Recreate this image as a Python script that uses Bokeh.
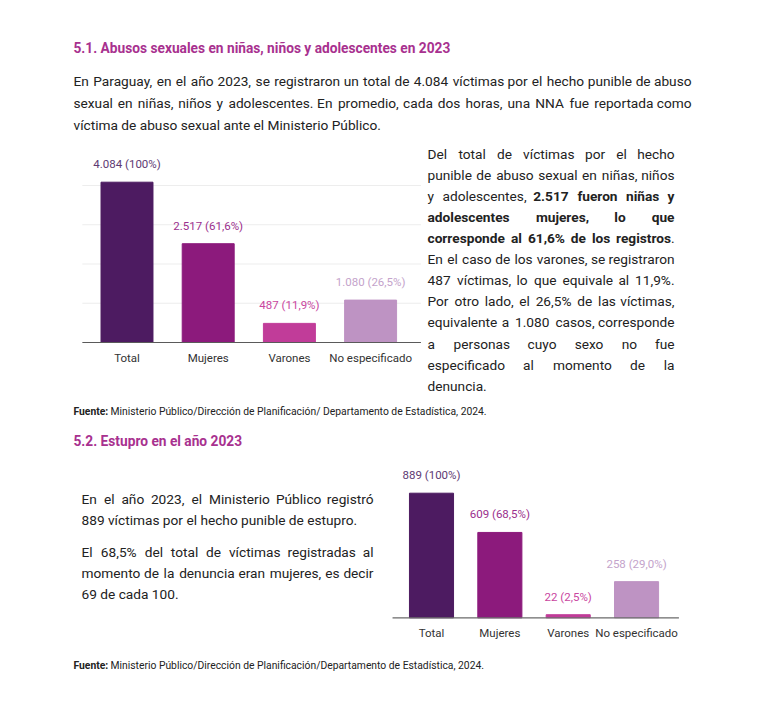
from bokeh.plotting import figure
from bokeh.models import Range1d, ColumnDataSource
from bokeh.core.properties import value
from bokeh.embed import file_html
from bokeh.resources import INLINE

# ---------------- data ----------------
categories = ["Total", "Mujeres", "Varones", "No especificado"]
abuso_values = [4084, 2517, 487, 1080]
abuso_labels = ["4.084 (100%)", "2.517 (61,6%)", "487 (11,9%)", "1.080 (26,5%)"]
abuso_grid = [1000, 2000, 3000, 4000]
estupro_values = [889, 609, 22, 258]
estupro_labels = ["889 (100%)", "609 (68,5%)", "22 (2,5%)", "258 (29,0%)"]

bar_colors = ["#4d1b61", "#8c1a7c", "#c13c99", "#be93c3"]
label_colors = ["#5e3a73", "#9b2f8d", "#c9469f", "#c4a3cb"]

title_1 = "5.1. Abusos sexuales en niñas, niños y adolescentes en 2023"
title_2 = "5.2. Estupro en el año 2023"
intro_lines = [
    "En Paraguay, en el año 2023, se registraron un total de 4.084 víctimas por el hecho punible de abuso",
    "sexual en niñas, niños y adolescentes. En promedio, cada dos horas, una NNA fue reportada como",
    "víctima de abuso sexual ante el Ministerio Público.",
]
side_lines = [
    "Del total de víctimas por el hecho",
    "punible de abuso sexual en niñas, niños",
    "y adolescentes, **2.517 fueron niñas y**",
    "**adolescentes mujeres, lo que**",
    "**corresponde al 61,6% de los registros**.",
    "En el caso de los varones, se registraron",
    "487 víctimas, lo que equivale al 11,9%.",
    "Por otro lado, el 26,5% de las víctimas,",
    "equivalente a 1.080 casos, corresponde",
    "a personas cuyo sexo no fue",
    "especificado al momento de la",
    "denuncia.",
]
estupro_lines = [
    "En el año 2023, el Ministerio Público registró",
    "889 víctimas por el hecho punible de estupro.",
    "El 68,5% del total de víctimas registradas al",
    "momento de la denuncia eran mujeres, es decir",
    "69 de cada 100.",
]
source_1 = "**Fuente:** Ministerio Público/Dirección de Planificación/ Departamento de Estadística, 2024."
source_2 = "**Fuente:** Ministerio Público/Dirección de Planificación/Departamento de Estadística, 2024."

# ---------------- approximate Roboto advance widths (units / 2048) ----------------
W = {" ": 507, "!": 527, "%": 1466, "(": 684, ")": 696, ",": 393, "-": 553, ".": 527,
     "/": 824, ":": 496, ";": 433}
for d in "0123456789":
    W[d] = 1150
W.update(dict(A=1336, B=1275, C=1333, D=1343, E=1164, F=1132, G=1395, H=1460, I=557,
              J=1130, K=1284, L=1103, M=1788, N=1460, O=1408, P=1292, Q=1408, R=1261,
              S=1217, T=1222, U=1328, V=1303, X=1284, Y=1230, Z=1226))
W["W"] = 1817
W.update(dict(a=1089, b=1120, c=1045, d=1126, e=1058, f=693, g=1120, h=1100, i=486,
              j=477, k=1011, l=486, m=1751, n=1102, o=1139, p=1120, q=1133, r=678,
              s=1031, t=655, u=1100, v=967, w=1502, x=991, y=945, z=991))
for acc, base in zip("áéíóúñÁÉÍÓÚ", "aeiounAEIOU"):
    W[acc] = W[base]


def em(s, bold=False):
    return sum(W.get(ch, 1100) for ch in s) / 2048.0 * (1.035 if bold else 1.0)


def parse_segments(line):
    segs, buf, bold, i = [], "", False, 0
    while i < len(line):
        if line.startswith("**", i):
            if buf:
                segs.append((buf, bold))
                buf = ""
            bold = not bold
            i += 2
            continue
        buf += line[i]
        i += 1
    if buf:
        segs.append((buf, bold))
    return segs


def parse_words(line):
    words, cur = [], []
    for text, bold in parse_segments(line):
        pieces = text.split(" ")
        for j, piece in enumerate(pieces):
            if j > 0 and cur:
                words.append(cur)
                cur = []
            if piece:
                cur.append((piece, bold))
    if cur:
        words.append(cur)
    return words


def plain(line):
    return line.replace("**", "")


def new_sink():
    return dict(x=[], y=[], text=[], size=[], color=[], align=[])


sinks = {False: new_sink(), True: new_sink()}


def emit(x, y, t, bold, fs, color, align="left"):
    s = sinks[bold]
    s["x"].append(x)
    s["y"].append(y)
    s["text"].append(t)
    s["size"].append("%.2fpx" % fs)
    s["color"].append(color)
    s["align"].append(align)


def place_line(line, x0, x1, yc, fs, justify, color, all_bold=False):
    if not justify:
        x = x0
        for t, b in parse_segments(line):
            bb = b or all_bold
            stripped = t.lstrip(" ")
            x += em(" ") * fs * (len(t) - len(stripped))
            emit(x, yc, stripped.rstrip(" "), bb, fs, color)
            x += em(stripped, bb) * fs
        return
    words = parse_words(line)
    widths = [sum(em(t, b or all_bold) * fs for t, b in w) for w in words]
    gap = (x1 - x0 - sum(widths)) / (len(words) - 1)
    x = x0
    for k, (w, wd) in enumerate(zip(words, widths)):
        if k == len(words) - 1:
            # last word anchored at the right margin
            xr = x1
            for t, b in reversed(w):
                bb = b or all_bold
                emit(xr, yc, t, bb, fs, color, "right")
                xr -= em(t, bb) * fs
            continue
        for t, b in w:
            bb = b or all_bold
            emit(x, yc, t, bb, fs, color)
            x += em(t, bb) * fs
        x += gap


def fit(text, width, bold=False):
    return width / em(plain(text), bold)


BODY = "#222222"
HEAD = "#a8318f"

# headings
fs_h1 = fit(title_1, 377, True)
place_line(title_1, 73, 450, 47, fs_h1, False, HEAD, all_bold=True)
place_line(title_2, 73, 242, 440, fs_h1, False, HEAD, all_bold=True)

# intro paragraph
fs_body = fit(intro_lines[2], 301)
for k, ln in enumerate(intro_lines):
    place_line(ln, 73, 691, 80.5 + 21.8 * k, fs_body, k < len(intro_lines) - 1, BODY)

# side paragraph
for k, ln in enumerate(side_lines):
    place_line(ln, 427, 674, 153.5 + 21.06 * k, fs_body, k < len(side_lines) - 1, BODY)

# estupro paragraph
est_y = [498.5, 519.5, 551.5, 572.5, 593.5]
est_just = [True, False, True, True, False]
for ln, yy, jj in zip(estupro_lines, est_y, est_just):
    place_line(ln, 81, 373, yy, fs_body, jj, BODY)

# sources
fs_src = fit(source_1, 405)
place_line(source_1, 73, 485, 411, fs_src, False, BODY)
place_line(source_2, 73, 482, 665, fs_src, False, BODY)

# ---------------- figure (data coords == screenshot pixels) ----------------
FW, FH = 754, 696

p = figure(width=FW, height=FH, x_range=Range1d(0, FW), y_range=Range1d(FH, 0),
           x_axis_type=None, y_axis_type=None, output_backend="svg", toolbar_location=None,
           min_border=0)
p.outline_line_color = None
p.grid.visible = False
p.background_fill_color = "white"
p.border_fill_color = "white"


def x_range_for(px_first, px_step):
    span = FW / px_step
    start = -px_first / px_step
    return Range1d(start, start + span)


def y_range_for(px_base, px_top, v_top):
    k = (px_base - px_top) / v_top
    start = -(FH - px_base) / k
    return Range1d(start, start + FH / k)


p.extra_x_ranges = {"x1": x_range_for(126.5, 81.2), "x2": x_range_for(431.0, 68.35)}
p.extra_y_ranges = {"y1": y_range_for(342.0, 181.7, abuso_values[0]),
                    "y2": y_range_for(617.3, 492.7, estupro_values[0])}

xs = list(range(len(categories)))

# chart 1
grid_src = ColumnDataSource(dict(x0=[-0.55] * len(abuso_grid), x1=[3.62] * len(abuso_grid), y=abuso_grid))
p.segment(x0="x0", x1="x1", y0="y", y1="y", source=grid_src, line_color="#ededed", line_width=1,
          x_range_name="x1", y_range_name="y1")
src1 = ColumnDataSource(dict(x=xs, top=abuso_values, color=bar_colors, label=abuso_labels,
                             lcolor=label_colors, cat=categories))
p.vbar(x="x", top="top", bottom=0, width=0.64, color="color", source=src1,
       x_range_name="x1", y_range_name="y1")
p.segment(x0=[-0.55], x1=[3.62], y0=[0], y1=[0], line_color="#5a5a5a", line_width=1.2,
          x_range_name="x1", y_range_name="y1")
p.text(x="x", y="top", text="label", source=src1, text_color="lcolor", text_align="center",
       text_baseline="bottom", y_offset=-11, text_font=value("Roboto"), text_font_size="11.5px",
       x_range_name="x1", y_range_name="y1")
p.text(x="x", y=0, text="cat", source=src1, text_color="#333333", text_align="center",
       text_baseline="top", y_offset=8, text_font=value("Roboto"), text_font_size="11.5px",
       x_range_name="x1", y_range_name="y1")

# chart 2
src2 = ColumnDataSource(dict(x=xs, top=estupro_values, color=bar_colors, label=estupro_labels,
                             lcolor=label_colors, cat=categories))
p.vbar(x="x", top="top", bottom=0, width=0.645, color="color", source=src2,
       x_range_name="x2", y_range_name="y2")
p.segment(x0=[-0.57], x1=[3.62], y0=[0], y1=[0], line_color="#6a6a6a", line_width=1.2,
          x_range_name="x2", y_range_name="y2")
p.text(x="x", y="top", text="label", source=src2, text_color="lcolor", text_align="center",
       text_baseline="bottom", y_offset=-11, text_font=value("Roboto"), text_font_size="11.5px",
       x_range_name="x2", y_range_name="y2")
p.text(x="x", y=0, text="cat", source=src2, text_color="#333333", text_align="center",
       text_baseline="top", y_offset=8, text_font=value("Roboto"), text_font_size="11.5px",
       x_range_name="x2", y_range_name="y2")

# paragraph text
for bold, data in sinks.items():
    if not data["x"]:
        continue
    p.text(x="x", y="y", text="text", source=ColumnDataSource(data), text_color="color",
           text_font_size="size", text_align="align", text_baseline="middle",
           text_font=value("Roboto"), text_font_style="bold" if bold else "normal")

open("out.html", "w").write(file_html(p, INLINE))
